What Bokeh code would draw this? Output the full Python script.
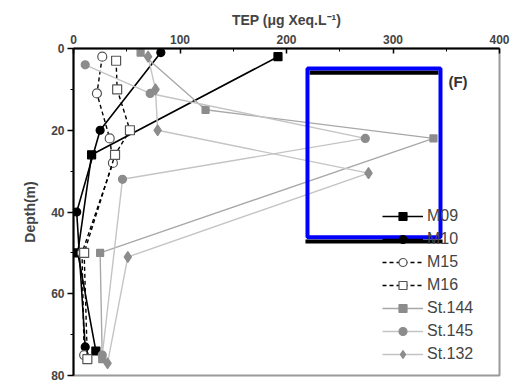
from bokeh.plotting import figure
from bokeh.models import Range1d, LinearAxis, Legend, LegendItem, Label, BoxAnnotation, FixedTicker
from bokeh.embed import file_html
from bokeh.resources import INLINE

# ---- data (TEP in ug Xeq/L vs depth in m) ----
M09_depth = [2, 26, 50, 74]
M09_tep = [192, 17, 4, 21]
M10_depth = [1, 20, 40, 73]
M10_tep = [82, 25, 3, 11]
M15_depth = [2, 11, 22, 28, 50, 75]
M15_tep = [27, 22, 34, 37, 8, 10]
M16_depth = [3, 10, 20, 26, 50, 76]
M16_tep = [40, 41, 53, 39, 10, 13]
St144_depth = [1, 15, 22, 50, 76]
St144_tep = [63, 124, 338, 25, 27]
St145_depth = [4, 11, 22, 32, 75]
St145_tep = [11, 72, 274, 46, 27]
St132_depth = [2, 10, 20, 30.5, 51, 77]
St132_tep = [70, 77, 79, 277, 51, 32]

x_ticks = [0, 100, 200, 300, 400]
y_ticks = [0, 20, 40, 60, 80]

# highlight box annotation (data units)
HL_BOX = dict(left=219.7, right=344.6, top=4.9, bottom=46.2)
HL_TOPBAR = dict(left=221.6, right=342.7, top=5.4, bottom=6.4)
HL_BOTBAR = dict(left=217.8, right=346.5, top=46.7, bottom=47.7)

p = figure(width=523, height=384, output_backend="svg", toolbar_location=None,
           x_range=Range1d(0, 400), y_range=Range1d(80, 0),
           x_axis_location="above", min_border_left=73, min_border_right=24,
           min_border_top=48, min_border_bottom=9)
p.background_fill_color = "white"
p.border_fill_color = "white"
p.grid.visible = False
p.outline_line_color = "#9a9a9a"
p.outline_line_width = 2

xa = p.xaxis[0]
xa.ticker = FixedTicker(ticks=x_ticks, minor_ticks=[50, 150, 250, 350])
xa.axis_label = "TEP (\u03bcg Xeq.L\u207b\u00b9)"
xa.axis_label_text_font = "Arial"
xa.axis_label_text_font_style = "bold"
xa.axis_label_text_font_size = "14px"
xa.axis_label_standoff = 4
xa.major_label_text_font = "Arial"
xa.major_label_text_font_style = "bold"
xa.major_label_text_font_size = "12px"
xa.major_label_standoff = 5
xa.major_tick_in = 5
xa.major_tick_out = 0
xa.minor_tick_in = 3
xa.minor_tick_out = 0
xa.axis_line_width = 2
xa.major_tick_line_width = 1.5

ya = p.yaxis[0]
ya.ticker = FixedTicker(ticks=y_ticks, minor_ticks=[10, 30, 50, 70])
ya.axis_label = "Depth(m)"
ya.axis_label_text_font = "Arial"
ya.axis_label_text_font_style = "bold"
ya.axis_label_text_font_size = "14px"
ya.axis_label_standoff = 10
ya.major_label_text_font = "Arial"
ya.major_label_text_font_style = "bold"
ya.major_label_text_font_size = "12px"
ya.major_label_standoff = 3
ya.major_tick_in = 0
ya.major_tick_out = 6
ya.minor_tick_in = 0
ya.minor_tick_out = 3
ya.axis_line_width = 2
ya.major_tick_line_width = 1.5

gray_line1 = "#a8a8a8"
gray_line2 = "#c4c4c4"
gray_mark = "#8c8c8c"

items = []

def series(x, y, name, line_color, line_width, dash, marker, mfill, mline, size):
    l = p.line(x, y, line_color=line_color, line_width=line_width, line_dash=dash)
    s = p.scatter(x, y, marker=marker, size=size, fill_color=mfill, line_color=mline, line_width=1.2)
    items.append(LegendItem(label=name, renderers=[l, s]))

series(M09_tep, M09_depth, "M09", "black", 1.6, "solid", "square", "black", "black", 8)
series(M10_tep, M10_depth, "M10", "black", 1.6, "solid", "circle", "black", "black", 8)
series(M15_tep, M15_depth, "M15", "black", 1.4, "4 3", "circle", "white", "#555555", 9)
series(M16_tep, M16_depth, "M16", "black", 1.4, "4 3", "square", "white", "#555555", 9)
series(St144_tep, St144_depth, "St.144", gray_line1, 1.4, "solid", "square", gray_mark, gray_mark, 7)
series(St145_tep, St145_depth, "St.145", gray_line2, 1.4, "solid", "circle", gray_mark, gray_mark, 8)
series(St132_tep, St132_depth, "St.132", gray_line2, 1.4, "solid", "diamond", gray_mark, gray_mark, 11)

legend = Legend(items=items, location=(309, 11), padding=0, margin=0, spacing=3,
                glyph_width=41, glyph_height=20, label_height=20, label_standoff=4,
                label_text_font="Arial", label_text_font_size="16px", label_text_color="#444444",
                border_line_color=None, background_fill_alpha=0)
p.add_layout(legend, "center")

p.add_layout(BoxAnnotation(**HL_TOPBAR, fill_color="black", fill_alpha=1, line_color=None))
p.add_layout(BoxAnnotation(**HL_BOTBAR, fill_color="black", fill_alpha=1, line_color=None))
p.add_layout(BoxAnnotation(**HL_BOX, fill_alpha=0, line_color="#0000ff", line_width=4, line_alpha=1))

p.add_layout(Label(x=352, y=8, text="(F)", text_font="Arial", text_font_style="bold",
                   text_font_size="15px", text_color="#333333", text_baseline="middle"))

open("out.html", "w").write(file_html(p, INLINE))
